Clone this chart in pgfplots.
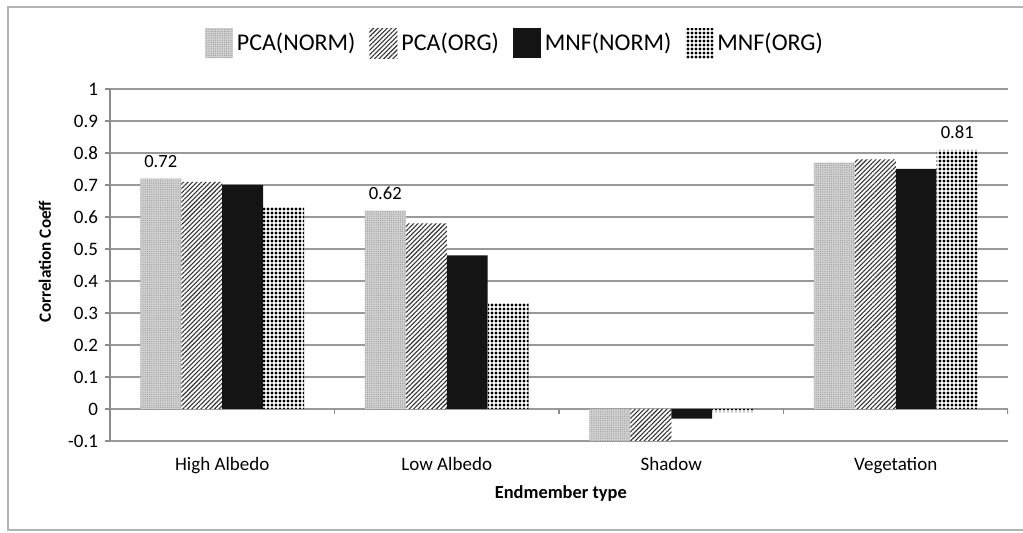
\documentclass[border=0pt]{standalone}
\usepackage{fontspec}
\setmainfont{Carlito}
\usepackage{pgfplots}
\usepackage{pgfplotstable}
\pgfplotsset{compat=1.18}
\usetikzlibrary{patterns.meta}

% x: 0 High Albedo, 1 Low Albedo, 2 Shadow, 3 Vegetation
\pgfplotstableread{
x pcan pcao mnfn mnfo labn labo
0 0.72 0.71 0.70 0.63 0.72 {}
1 0.62 0.58 0.48 0.33 0.62 {}
2 -0.10 -0.10 -0.03 -0.01 {} {}
3 0.77 0.78 0.75 0.81 {} 0.81
}\corr

\begin{document}
\begin{tikzpicture}
\useasboundingbox (-55pt,-46pt) rectangle (456.5pt,220.5pt);
\draw[black!30, line width=1pt] (-51pt,-44.5pt) rectangle (480pt,217pt);
\begin{axis}[
  at={(0pt,0pt)}, anchor=south west,
  scale only axis, width=449pt, height=176pt,
  xmin=-0.5, xmax=3.5, ymin=-0.1, ymax=1,
  ybar=0pt, bar width=0.1826,
  font=\fontsize{9.5}{11}\selectfont,
  /pgf/number format/assume math mode=true,
  /pgf/number format/fixed, /pgf/number format/precision=1,
  ytick={-0.1,0,0.1,0.2,0.3,0.4,0.5,0.6,0.7,0.8,0.9,1},
  xtick={0,1,2,3},
  xticklabels={High Albedo, Low Albedo, Shadow, Vegetation},
  x axis line style={draw=none},
  y axis line style={black!45, line width=0.75pt},
  axis x line*=bottom, axis y line*=left,
  xtick style={draw=none},
  major tick length=2.5pt, tick align=outside,
  ytick style={black!45, line width=0.75pt},
  ymajorgrids, grid style={black!40, line width=0.75pt},
  xticklabel style={anchor=base, yshift=-12.5pt},
  xlabel={\textbf{Endmember type}},
  ylabel={\textbf{Correlation Coeff}},
  xlabel style={at={(axis description cs:0.502,0)}, anchor=center, yshift=-26pt, font=\fontsize{9.2}{11}\selectfont},
  ylabel style={at={(axis description cs:-0.0724,0.51)}, anchor=center, font=\fontsize{8.6}{10}\selectfont},
  legend columns=-1,
  legend style={at={(axis description cs:0.452,1.13)}, anchor=center, draw=none, fill=none,
    font=\fontsize{12}{14}\selectfont, inner sep=0pt,
    /tikz/every even column/.append style={column sep=5pt}},
  legend image code/.code={\draw[#1, draw=none] (0pt,-7.5pt) rectangle (14pt,7.5pt);},
  nodes near coords style={font=\fontsize{9.3}{11}\selectfont, yshift=2pt, /pgf/number format/assume math mode=true},
]
\addplot[draw=none, fill=black!18, postaction={pattern={Dots[distance=1.1pt, radius=0.3pt]}, pattern color=black!40},
  point meta=explicit symbolic, nodes near coords] table[x=x, y=pcan, meta=labn] {\corr};
\addplot[draw=none, fill=white, postaction={pattern={Lines[angle=45, distance=1.6pt, line width=0.55pt]}, pattern color=black!80}]
  table[x=x, y=pcao] {\corr};
\addplot[draw=none, fill=black!92] table[x=x, y=mnfn] {\corr};
\addplot[draw=none, fill=white, postaction={pattern={Dots[distance=2pt, radius=0.82pt]}, pattern color=black},
  point meta=explicit symbolic, nodes near coords] table[x=x, y=mnfo, meta=labo] {\corr};
\legend{PCA(NORM), PCA(ORG), MNF(NORM), MNF(ORG)}
\pgfplotsinvokeforeach{-0.5,0.5,1.5,2.5,3.5}{
  \draw[black!45, line width=0.75pt] (axis cs:#1,0) -- ++(0pt,-2.5pt);
}
\end{axis}
\end{tikzpicture}
\end{document}
